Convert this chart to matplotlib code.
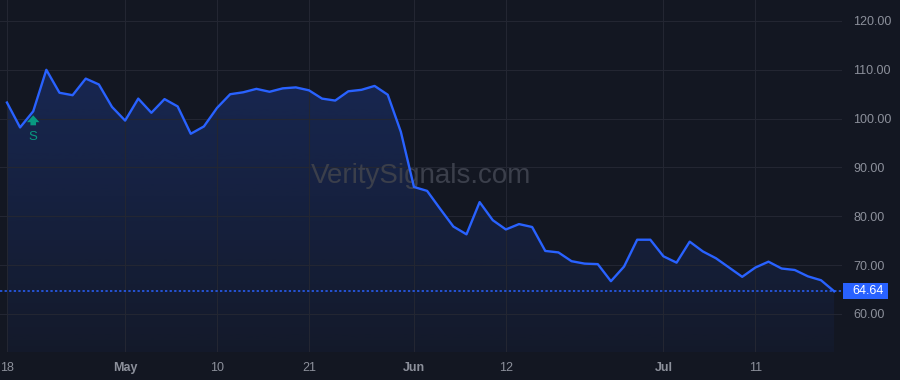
import numpy as np
import matplotlib
matplotlib.use('Agg')
import matplotlib.pyplot as plt
from matplotlib.transforms import offset_copy
from matplotlib.patches import Rectangle

plt.rcParams['font.family'] = ['Liberation Sans', 'DejaVu Sans']

# daily closes, Apr 18 .. Jul 19 (trading days)
prices = [103.3, 98.2, 101.5, 110.0, 105.3, 104.8, 108.2, 107.0, 102.4, 99.6,
          104.1, 101.2, 104.0, 102.5, 96.9, 98.4, 102.2, 105.0, 105.4, 106.1,
          105.5, 106.2, 106.4, 105.8, 104.1, 103.7, 105.6, 105.9, 106.7, 104.9,
          97.3, 86.0, 85.2, 81.5, 77.9, 76.3, 82.9, 79.2, 77.3, 78.4,
          77.8, 72.9, 72.6, 70.8, 70.3, 70.2, 66.7, 69.7, 75.2, 75.2,
          71.8, 70.5, 74.8, 72.8, 71.4, 69.5, 67.6, 69.5, 70.7, 69.3,
          69.0, 67.7, 66.9, 64.64]
tick_pos = [0, 9, 16, 23, 31, 38, 50, 57]
tick_labels = ['18', 'May', '10', '21', 'Jun', '12', 'Jul', '11']
month_labels = ['May', 'Jun', 'Jul']
y_ticks = [60, 70, 80, 90, 100, 110, 120]
signal_idx = 2
signal_text = 'S'
last_price = prices[-1]
watermark = 'VeritySignals.com'

bg = '#131722'
blue = '#2962ff'
grid_c = '#232632'
txt_c = '#8c909b'

x = np.arange(len(prices))
y = np.array(prices)

fig = plt.figure(figsize=(9, 3.8), dpi=100, facecolor=bg)
ax = fig.add_axes([0, 28 / 380, 842 / 900, 352 / 380])
ax.set_facecolor(bg)
ax.set_xlim(-0.53, 63.6)
ax.set_ylim(52.2, 124.3)

# gradient area under the line
grad = np.zeros((256, 1, 4))
grad[:, 0, :3] = matplotlib.colors.to_rgb(blue)
grad[:, 0, 3] = np.linspace(0.04, 0.26, 256)
img = ax.imshow(grad, extent=[-0.53, 63.6, 52.2, 124.3], origin='lower',
                aspect='auto', zorder=1)
poly = ax.fill_between(x, y, 52.2, color='none', lw=0)
img.set_clip_path(poly.get_paths()[0], transform=ax.transData)

ax.plot(x, y, color=blue, lw=1.7, zorder=3, solid_joinstyle='round')
ax.axhline(last_price, color=blue, lw=1.1, ls=(0, (1.5, 1.5)), zorder=2)

ax.set_xticks(tick_pos)
ax.set_xticklabels(tick_labels)
for lab in ax.get_xticklabels():
    if lab.get_text() in month_labels:
        lab.set_fontweight('bold')
ax.set_yticks(y_ticks)
ax.set_yticklabels([f'{v:.2f}' for v in y_ticks])
ax.yaxis.tick_right()
ax.tick_params(axis='both', length=0, colors=txt_c, labelsize=9)
ax.tick_params(axis='x', pad=7)
ax.tick_params(axis='y', pad=8)
ax.grid(True, color=grid_c, lw=0.8)
for s in ax.spines.values():
    s.set_visible(False)

ax.text(0.5, 0.5, watermark, transform=ax.transAxes, ha='center', va='center',
        fontsize=20, color='#3b3f4b', zorder=2)

# buy signal marker
green = '#089981'
arr_tr = offset_copy(ax.transData, fig=fig, x=0, y=-4, units='dots')
ax.annotate('', xy=(signal_idx, prices[signal_idx]), xycoords=arr_tr,
            xytext=(0, -10), textcoords='offset pixels',
            arrowprops=dict(arrowstyle='simple,head_width=1.0,head_length=0.55,tail_width=0.45',
                            color=green, lw=0, mutation_scale=9,
                            shrinkA=0, shrinkB=0), zorder=4)
ax.annotate(signal_text, xy=(signal_idx, prices[signal_idx]), xytext=(0, -26),
            textcoords='offset pixels', ha='center', va='center',
            color=green, fontsize=9.5, zorder=4)

# last price label on the axis
fig.canvas.draw()
_, py = ax.transData.transform((0, last_price))
ax_right = ax.get_position().x1 * 900
fig.add_artist(Rectangle((ax_right + 1, py - 8), 45, 16, transform=None,
                         facecolor=blue, edgecolor='none'))
fig.text((ax_right + 10) / 900, py / 380, f'{last_price:.2f}', ha='left',
         va='center', color='white', fontsize=9)

fig.savefig('out.png', dpi=100, facecolor=bg)
